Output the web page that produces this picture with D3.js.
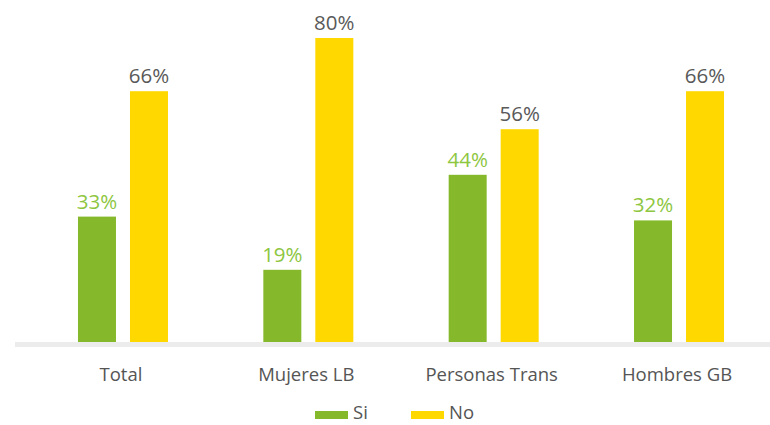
<!DOCTYPE html>
<html><head><meta charset="utf-8">
<script src="https://cdn.jsdelivr.net/npm/d3@7"></script>
<style>body{margin:0;background:#fff}svg{display:block}text{font-family:"Open Sans",sans-serif}</style>
</head><body>
<svg id="c" width="770" height="425"></svg>
<script>
const categories = ["Total", "Mujeres LB", "Personas Trans", "Hombres GB"];
const seriesNames = ["Si", "No"];
const siValues = [33, 19, 44, 32];
const noValues = [66, 80, 56, 66];
const colors = ["#85B92B", "#FFD800"];
const labelColors = ["#8DC63F", "#595959"];

const svg = d3.select("#c");
const x = d3.scaleBand().domain(categories).range([30.3, 771.7]).padding(0);
const y = d3.scaleLinear().domain([0, 100]).range([342, -38]);
const barW = 38, gap = 14;
const xs = d3.scaleOrdinal().domain(seriesNames).range([-(gap/2 + barW), gap/2]);

const data = categories.map((c, i) => ({c, vals: [siValues[i], noValues[i]]}));

// axis line
svg.append("rect").attr("x", 15).attr("y", 342).attr("width", 755).attr("height", 5).attr("fill", "#ECECEC");

const g = svg.selectAll("g.cat").data(data).join("g").attr("class", "cat")
  .attr("transform", d => `translate(${x(d.c) + x.bandwidth()/2},0)`);

seriesNames.forEach((s, si) => {
  g.append("rect")
    .attr("x", xs(s)).attr("width", barW)
    .attr("y", d => y(d.vals[si])).attr("height", d => y(0) - y(d.vals[si]))
    .attr("fill", colors[si]);
  g.append("text")
    .attr("x", xs(s) + barW/2).attr("y", d => y(d.vals[si]) - 8)
    .attr("text-anchor", "middle").attr("font-size", 20.5)
    .attr("fill", labelColors[si])
    .text(d => d.vals[si] + "%");
});

g.append("text").attr("x", -2).attr("y", 381).attr("text-anchor", "middle")
  .attr("font-size", 18.5).attr("fill", "#555555").text(d => d.c);

// legend
const legX = [315, 411];
const lg = svg.selectAll("g.leg").data(seriesNames).join("g").attr("class", "leg")
  .attr("transform", (d, i) => `translate(${legX[i]},0)`);
lg.append("rect").attr("x", 0).attr("y", 411).attr("width", 33).attr("height", 8).attr("fill", (d, i) => colors[i]);
lg.append("text").attr("x", 38).attr("y", 419).attr("font-size", 18.5).attr("fill", "#555555").text(d => d);
</script>
</body></html>
